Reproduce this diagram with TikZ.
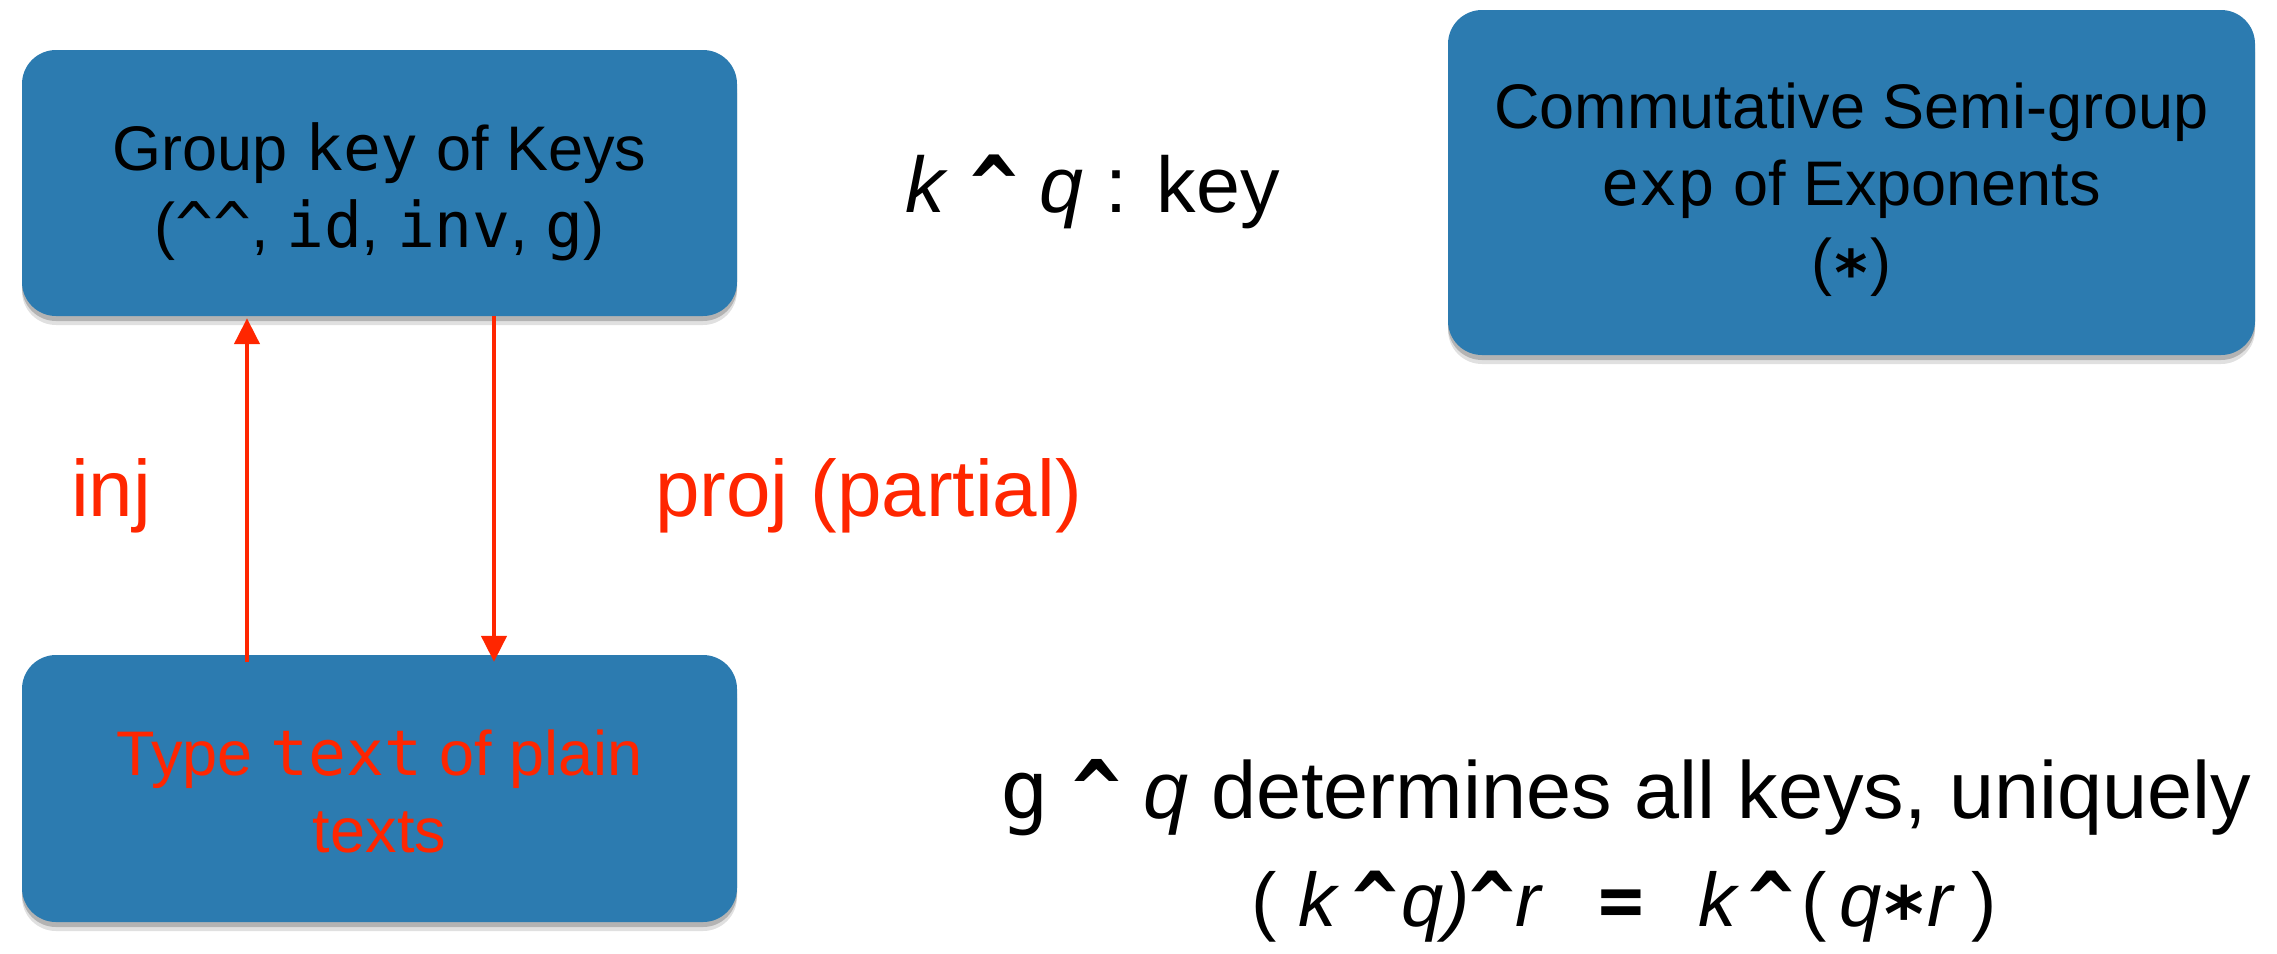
\documentclass[tikz,border=0pt]{standalone}
\usepackage{fontspec}
\setmainfont{Liberation Sans}
\setmonofont{DejaVu Sans Mono}
\usetikzlibrary{arrows.meta,shadows}
\definecolor{boxblue}{RGB}{44,123,176}
\definecolor{arrred}{RGB}{255,38,0}
\newcommand{\kcaret}{\textasciicircum}
\newcommand{\bcaret}{{\ttfamily\bfseries\textasciicircum}}
\newcommand{\lowstar}{{\ttfamily\bfseries\raisebox{-0.2em}{*}}}
\begin{document}
\begin{tikzpicture}[x=1pt,y=-1pt,
  box/.style={draw=none, fill=boxblue, rounded corners=34pt, inner sep=0pt,
    drop shadow={shadow xshift=0pt, shadow yshift=-9pt, opacity=0.12, fill=black},
    drop shadow={shadow xshift=0pt, shadow yshift=-5pt, opacity=0.2, fill=black}},
  boxline/.style={font=\fontsize{63}{77}\selectfont, inner sep=0pt, anchor=base},
  lbl/.style={font=\fontsize{81}{96}\selectfont, inner sep=0pt, anchor=base},
  redlbl/.style={lbl, text=arrred, font=\fontsize{80}{96}\selectfont, anchor=base west},
  arr/.style={draw=arrred, line width=4.5pt, -{Triangle[length=26pt,width=25pt]}}]
\useasboundingbox (0,0) rectangle (2277,953);

\node[box, minimum width=715pt, minimum height=266pt] (keys) at (379.5,183) {};
\node[box, minimum width=715pt, minimum height=267pt] (texts) at (379.5,788.5) {};
\node[box, minimum width=807pt, minimum height=345pt] (exps) at (1851.5,182.5) {};

\node[boxline] (keys1) at (379.5,170) {Group \texttt{key} of Keys};
\node[boxline] (keys2) at (379.5,247) {(\texttt{\kcaret\kcaret}, \texttt{id}, \texttt{inv}, \texttt{g})};
\node[boxline, text=arrred] (texts1) at (379.5,775) {Type \texttt{text} of plain};
\node[boxline, text=arrred] (texts2) at (379.5,852) {texts};
\node[boxline] (exps1) at (1851.5,128) {Commutative Semi-group};
\node[boxline] (exps2) at (1851.5,205) {\texttt{exp} of Exponents};
\node[boxline] (exps3) at (1851.5,283) {(\lowstar)};

\draw[arr, shorten <=-7pt, shorten >=2pt] ([xshift=-132.5pt]texts.north) -- ([xshift=-132.5pt]keys.south);
\draw[arr, shorten >=-7pt] ([xshift=114.5pt]keys.south) -- ([xshift=114.5pt]texts.north);

\node[redlbl] (inj) at (71,516) {inj};
\node[redlbl] (proj) at (655,516) {proj (partial)};

\node[lbl, font=\fontsize{79}{94}\selectfont] (kq) at (1092.5,212) {\textit{k} \bcaret{} \textit{q} : key};
\node[lbl] (uniq) at (1626,818) {{\ttfamily g} \bcaret{} \textit{q} determines all keys, uniquely};
\node[lbl, font=\fontsize{76}{90}\selectfont] (law) at (1624,926) {(\hspace{22pt}\textit{k}\hspace{12pt}\bcaret\hspace{4pt}\textit{q)}\bcaret\textit{r}\hspace{55pt}{\ttfamily\bfseries =}\hspace{55pt}\textit{k}\hspace{8pt}\bcaret\hspace{8pt}(\hspace{12pt}\textit{q}\lowstar\textit{r}\hspace{16pt})};
\end{tikzpicture}
\end{document}
